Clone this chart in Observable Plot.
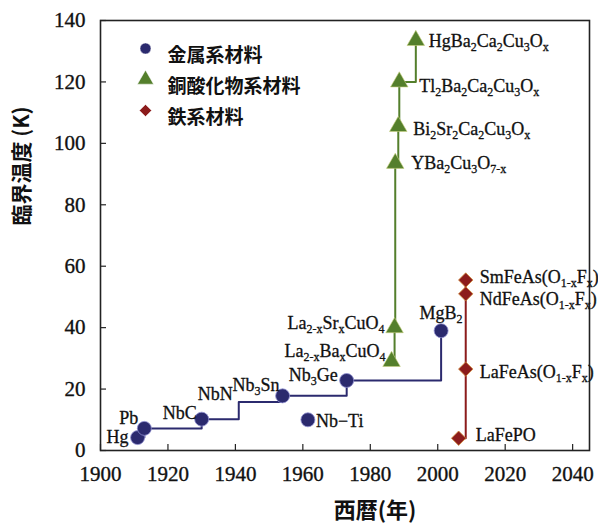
<!DOCTYPE html>
<html><head><meta charset="utf-8">
<script src="https://cdn.jsdelivr.net/npm/d3@7"></script>
<script src="https://cdn.jsdelivr.net/npm/@observablehq/plot@0.6"></script>
<style>
body{margin:0;background:#fff;}
#chart{position:relative;width:598px;height:528px;}
</style></head>
<body><div id="chart"></div>
<script>
// ---- data ----
const metalNames = ["Hg","Pb","NbC","NbN","Nb_{3}Sn","Nb_{3}Ge","MgB_{2}"];
const metalYears = [1911, 1913, 1930, 1941, 1954, 1973, 2001];
const metalTc    = [4.2, 7.2, 10.2, 15.8, 17.8, 22.8, 39];
const metalMarker = [true, true, true, false, true, true, true];
const nbtiName = ["Nb−Ti"], nbtiYear = [1961.5], nbtiTc = [10];

const cuprateNames = ["La_{2−x}Ba_{x}CuO_{4}","La_{2−x}Sr_{x}CuO_{4}","YBa_{2}Cu_{3}O_{7−x}","Bi_{2}Sr_{2}Ca_{2}Cu_{3}O_{x}","Tl_{2}Ba_{2}Ca_{2}Cu_{3}O_{x}","HgBa_{2}Ca_{2}Cu_{3}O_{x}"];
const cuprateYears = [1986.3, 1987.2, 1987.4, 1988.3, 1988.6, 1993.5];
const cuprateTc    = [29, 40, 93.5, 105.5, 120, 133.5];

const ironNames = ["LaFePO","LaFeAs(O_{1−x}F_{x})","NdFeAs(O_{1−x}F_{x})","SmFeAs(O_{1−x}F_{x})"];
const ironYears = [2006.2, 2008.3, 2008.3, 2008.3];
const ironTc    = [4, 26.5, 51, 55.5];

const legendLabels = ["金属系材料","銅酸化物系材料","鉄系材料"];
const xTicks = [1900,1920,1940,1960,1980,2000,2020,2040];
const yTicks = [0,20,40,60,80,100,120,140];

// ---- styles ----
const C = {metal:"#2b2a6e", cup:"#547f2c", iron:"#8c1c1c"};
const serif = "'Liberation Serif', 'Times New Roman', serif";
const cjk = "'Noto Sans CJK JP', sans-serif";

const metals = metalNames.map((n,i)=>({name:n, year:metalYears[i], tc:metalTc[i], mark:metalMarker[i]}));
const nbti = nbtiName.map((n,i)=>({name:n, year:nbtiYear[i], tc:nbtiTc[i]}));
const cups = cuprateNames.map((n,i)=>({name:n, year:cuprateYears[i], tc:cuprateTc[i]}));
const irons = ironNames.map((n,i)=>({name:n, year:ironYears[i], tc:ironTc[i]}));

// label offsets (styling)
const lab = {
  "Hg":{a:"end",dx:-9,dy:0},
  "Pb":{a:"end",dx:-6,dy:-10},
  "NbC":{a:"end",dx:-5,dy:-6},
  "NbN":{a:"end",dx:-6,dy:-8},
  "Nb_{3}Sn":{a:"end",dx:-3,dy:-11},
  "Nb_{3}Ge":{a:"end",dx:-9,dy:-5},
  "MgB_{2}":{a:"middle",dx:0,dy:-17},
  "Nb−Ti":{a:"start",dx:8,dy:1},
  "La_{2−x}Ba_{x}CuO_{4}":{a:"end",dx:-6,dy:-10},
  "La_{2−x}Sr_{x}CuO_{4}":{a:"end",dx:-10,dy:-4},
  "YBa_{2}Cu_{3}O_{7−x}":{a:"start",dx:16,dy:0},
  "Bi_{2}Sr_{2}Ca_{2}Cu_{3}O_{x}":{a:"start",dx:15,dy:3},
  "Tl_{2}Ba_{2}Ca_{2}Cu_{3}O_{x}":{a:"start",dx:20,dy:4},
  "HgBa_{2}Ca_{2}Cu_{3}O_{x}":{a:"start",dx:13,dy:1},
  "LaFePO":{a:"start",dx:17,dy:-3},
  "LaFeAs(O_{1−x}F_{x})":{a:"start",dx:14,dy:3},
  "NdFeAs(O_{1−x}F_{x})":{a:"start",dx:14,dy:5},
  "SmFeAs(O_{1−x}F_{x})":{a:"start",dx:14,dy:-3}
};
const allLabeled = [...metals, ...nbti, ...cups, ...irons];
const labelMarks = [];
for (const a of ["start","middle","end"]) {
  for (const d of allLabeled.filter(d=>lab[d.name].a===a)) {
    const o = lab[d.name];
    labelMarks.push(Plot.text([d], {x:"year", y:"tc", text:"name", textAnchor:a, dx:o.dx, dy:o.dy,
      fontSize:18, fontFamily:serif, fill:"#111", stroke:"#111", strokeWidth:0.3, className:"sublbl"}));
  }
}

const legendSym = ["circle","triangle","diamond2"];
const legendCol = [C.metal, C.cup, C.iron];
const legendMarks = [];
legendLabels.forEach((t,i)=>{
  legendMarks.push(Plot.dot([t], {frameAnchor:"top-left", dx:45, dy:28+i*31, symbol:legendSym[i], fill:legendCol[i], r:i===0?5.5:(i===1?6:5.5), stroke:"#fff", strokeWidth:0.5}));
  legendMarks.push(Plot.text([t], {frameAnchor:"top-left", dx:67, dy:28+i*31, text:d=>d, textAnchor:"start", fontSize:19, fontFamily:cjk, fontWeight:"bold", fill:"#111"}));
});

const plot = Plot.plot({
  width:598, height:528,
  marginLeft:100, marginRight:9, marginTop:20, marginBottom:78,
  x:{domain:[1900,2045], axis:null},
  y:{domain:[0,140], axis:null},
  style:{fontFamily:serif, background:"#fff"},
  marks:[
    // tick labels
    Plot.text(xTicks, {x:d=>d, frameAnchor:"bottom", dy:30, text:d=>String(d), fontSize:21, fontFamily:serif, fill:"#111", stroke:"#111", strokeWidth:0.35}),
    Plot.text(yTicks, {y:d=>d, frameAnchor:"left", dx:-15, textAnchor:"end", text:d=>String(d), fontSize:21, fontFamily:serif, fill:"#111", stroke:"#111", strokeWidth:0.35}),
    // inward ticks
    Plot.axisX({ticks:xTicks, tickSize:6, dy:-6, text:null, label:null, strokeWidth:1.2, stroke:"#222"}),
    Plot.axisY({ticks:yTicks, tickSize:6, dx:6, text:null, label:null, strokeWidth:1.2, stroke:"#222"}),
    Plot.frame({stroke:"#222", strokeWidth:1.6}),
    // step lines
    Plot.line(metals, {x:"year", y:"tc", curve:"step-after", stroke:C.metal, strokeWidth:2}),
    Plot.line(cups, {x:"year", y:"tc", curve:"step-after", stroke:C.cup, strokeWidth:2}),
    Plot.line(irons, {x:"year", y:"tc", curve:"step-after", stroke:C.iron, strokeWidth:2}),
    // markers
    Plot.dot(metals.filter(d=>d.mark), {x:"year", y:"tc", r:7, fill:C.metal, stroke:"#8f8fd0", strokeWidth:0.8}),
    Plot.dot(nbti, {x:"year", y:"tc", r:7, fill:C.metal, stroke:"#8f8fd0", strokeWidth:0.8}),
    Plot.dot(cups, {x:"year", y:"tc", symbol:"triangle", r:6.5, fill:C.cup, stroke:"#c8d080", strokeWidth:0.6}),
    Plot.dot(irons, {x:"year", y:"tc", symbol:"diamond2", r:6.5, fill:C.iron, stroke:"#d08a3a", strokeWidth:0.8}),
    ...labelMarks,
    ...legendMarks,
    // axis titles
    Plot.text(["臨界温度 (K)"], {frameAnchor:"left", dx:-78, dy:-10, rotate:-90, text:d=>d, fontSize:21, fontFamily:cjk, fontWeight:"bold", fill:"#111"}),
    Plot.text(["西暦(年)"], {frameAnchor:"bottom", dx:30, dy:67, text:d=>d, fontSize:22, fontFamily:cjk, fontWeight:"bold", fill:"#111"})
  ]
});
document.getElementById("chart").appendChild(plot);

// render subscripts as tspans
d3.select(plot).selectAll("g.sublbl text").each(function(){
  const s = this.textContent;
  const parts = [];
  const re = /_\{([^}]*)\}/g;
  let last = 0, m;
  while ((m = re.exec(s))) {
    if (m.index > last) parts.push({t:s.slice(last, m.index), sub:false});
    parts.push({t:m[1], sub:true});
    last = re.lastIndex;
  }
  if (last < s.length) parts.push({t:s.slice(last), sub:false});
  if (!parts.some(p=>p.sub)) return;
  const el = d3.select(this);
  el.text(null);
  let shifted = false;
  for (const p of parts) {
    const ts = el.append("tspan").text(p.t.replace(/−/g, "-"));
    if (p.sub && !shifted) { ts.attr("dy", 4).attr("font-size", 12); shifted = true; }
    else if (p.sub) { ts.attr("font-size", 12); }
    else if (!p.sub && shifted) { ts.attr("dy", -4); shifted = false; }
  }
});
</script>
</body></html>
